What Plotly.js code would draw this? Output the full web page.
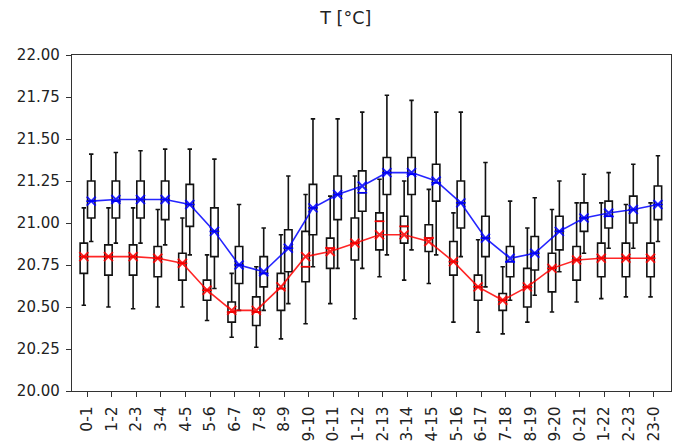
<!DOCTYPE html>
<html>
<head>
<meta charset="utf-8">
<script src="https://cdn.plot.ly/plotly-3.0.1.min.js"></script>
<style>html,body{margin:0;padding:0;background:#fff;}#chart{width:678px;height:443px;}</style>
</head>
<body>
<div id="chart"></div>
<script>
const categories = ["0-1","1-2","2-3","3-4","4-5","5-6","6-7","7-8","8-9","9-10","10-11","11-12","12-13","13-14","14-15","15-16","16-17","17-18","18-19","19-20","20-21","21-22","22-23","23-0"];

// red series
const redLo   = [20.51,20.50,20.49,20.50,20.50,20.42,20.32,20.26,20.31,20.40,20.52,20.43,20.68,20.66,20.64,20.41,20.35,20.34,20.41,20.47,20.53,20.55,20.56,20.56];
const redQ1   = [20.70,20.69,20.69,20.68,20.66,20.54,20.41,20.39,20.48,20.65,20.73,20.78,20.84,20.88,20.83,20.69,20.54,20.48,20.50,20.59,20.66,20.68,20.68,20.68];
const redMed  = [20.80,20.80,20.80,20.79,20.76,20.60,20.47,20.47,20.61,20.74,20.85,20.88,21.01,20.98,20.91,20.77,20.62,20.54,20.62,20.73,20.78,20.79,20.79,20.79];
const redQ3   = [20.88,20.87,20.87,20.86,20.82,20.66,20.53,20.56,20.70,20.95,20.91,21.03,21.06,21.04,20.99,20.89,20.69,20.58,20.73,20.82,20.86,20.88,20.88,20.88];
const redHi   = [21.09,21.09,21.09,21.08,21.03,20.81,20.70,20.74,20.93,21.17,21.16,21.28,21.26,21.25,21.20,21.06,20.90,20.74,20.97,21.08,21.12,21.12,21.11,21.12];
const redMean = [20.80,20.80,20.80,20.79,20.76,20.60,20.48,20.48,20.62,20.80,20.83,20.88,20.93,20.93,20.89,20.77,20.62,20.54,20.62,20.73,20.78,20.79,20.79,20.79];

// blue series
const blueLo   = [20.89,20.88,20.88,20.87,20.81,20.61,20.48,20.48,20.52,20.74,20.73,20.73,20.81,20.84,20.81,20.80,20.62,20.54,20.57,20.71,20.82,20.85,20.85,20.89];
const blueQ1   = [21.03,21.03,21.03,21.02,20.98,20.80,20.64,20.62,20.71,20.93,21.02,21.07,21.17,21.17,21.13,20.97,20.80,20.68,20.72,20.84,20.95,20.97,21.00,21.02];
const blueMed  = [21.13,21.13,21.14,21.14,21.11,20.95,20.75,20.70,20.85,21.09,21.17,21.18,21.30,21.29,21.24,21.12,20.91,20.77,20.82,20.95,21.03,21.04,21.08,21.11];
const blueQ3   = [21.25,21.25,21.25,21.25,21.23,21.09,20.86,20.80,20.96,21.23,21.28,21.31,21.39,21.39,21.35,21.25,21.04,20.86,20.92,21.04,21.12,21.13,21.16,21.22];
const blueHi   = [21.41,21.42,21.43,21.44,21.44,21.38,21.11,20.97,21.28,21.62,21.62,21.66,21.76,21.73,21.66,21.66,21.36,21.13,21.15,21.25,21.29,21.30,21.35,21.40];
const blueMean = [21.13,21.14,21.14,21.14,21.11,20.95,20.75,20.71,20.85,21.09,21.17,21.22,21.30,21.30,21.25,21.12,20.91,20.79,20.82,20.95,21.03,21.06,21.08,21.11];

const yTicks = [20.00,20.25,20.50,20.75,21.00,21.25,21.50,21.75,22.00];

const idx = categories.map((c,i)=>i);
const redX = idx.map(i=>i-0.13);
const blueX = idx.map(i=>i+0.17);

function boxTrace(x, lo, q1, med, q3, hi){
  return {type:'box', x:x, lowerfence:lo, q1:q1, median:med, q3:q3, upperfence:hi,
    width:0.3, whiskerwidth:0.6, boxpoints:false, fillcolor:'rgba(0,0,0,0)',
    line:{color:'#111', width:1.6}, hoverinfo:'skip', showlegend:false};
}
function medTrace(x, med, color){
  return {type:'scatter', mode:'markers', x:x, y:med, showlegend:false, hoverinfo:'skip',
    marker:{symbol:'line-ew', size:7, color:color, line:{color:color, width:1.6}}};
}
function meanTrace(x, mean, color){
  return {type:'scatter', mode:'lines+markers', x:x, y:mean, showlegend:false,
    line:{color:color, width:1.6}, opacity:0.85,
    marker:{symbol:'x-thin', size:9, color:color, line:{color:color, width:2}}};
}

const data = [
  boxTrace(redX, redLo, redQ1, redMed, redQ3, redHi),
  boxTrace(blueX, blueLo, blueQ1, blueMed, blueQ3, blueHi),
  medTrace(redX, redMed, '#ff0000'),
  medTrace(blueX, blueMed, '#0000ff'),
  meanTrace(redX, redMean, '#ff0000'),
  meanTrace(blueX, blueMean, '#0000ff')
];

const yfont = {family:'DejaVu Sans, sans-serif', size:15, color:'#222'};
const xfont = {family:'DejaVu Sans, sans-serif', size:15.5, color:'#222'};
const layout = {
  width:678, height:443,
  margin:{l:72, r:7, t:55, b:52, pad:0},
  paper_bgcolor:'#fff', plot_bgcolor:'#fff',
  font:yfont,
  showlegend:false,
  boxmode:'overlay',
  title:{text:'T [°C]', x:0.51, xref:'container', xanchor:'center', y:1-18/443, yref:'container', yanchor:'middle',
    font:{family:'DejaVu Sans, sans-serif', size:17.5, color:'#222'}},
  xaxis:{range:[-0.61,23.7], tickmode:'array', tickvals:idx, ticktext:categories, tickangle:-90,
    ticks:'outside', ticklen:5, tickwidth:1, tickcolor:'#333', ticklabelstandoff:3,
    showline:true, mirror:true, linecolor:'#333', linewidth:1.2,
    showgrid:false, zeroline:false, automargin:false, tickfont:xfont},
  yaxis:{range:[20,22], tickmode:'array', tickvals:yTicks, ticktext:yTicks.map(v=>v.toFixed(2)),
    ticks:'outside', ticklen:5, tickwidth:1, tickcolor:'#333', ticklabelstandoff:3,
    showline:true, mirror:true, linecolor:'#333', linewidth:1.2,
    showgrid:false, zeroline:false, automargin:false, tickfont:yfont}
};

Plotly.newPlot('chart', data, layout, {staticPlot:true, displayModeBar:false});
</script>
</body>
</html>
